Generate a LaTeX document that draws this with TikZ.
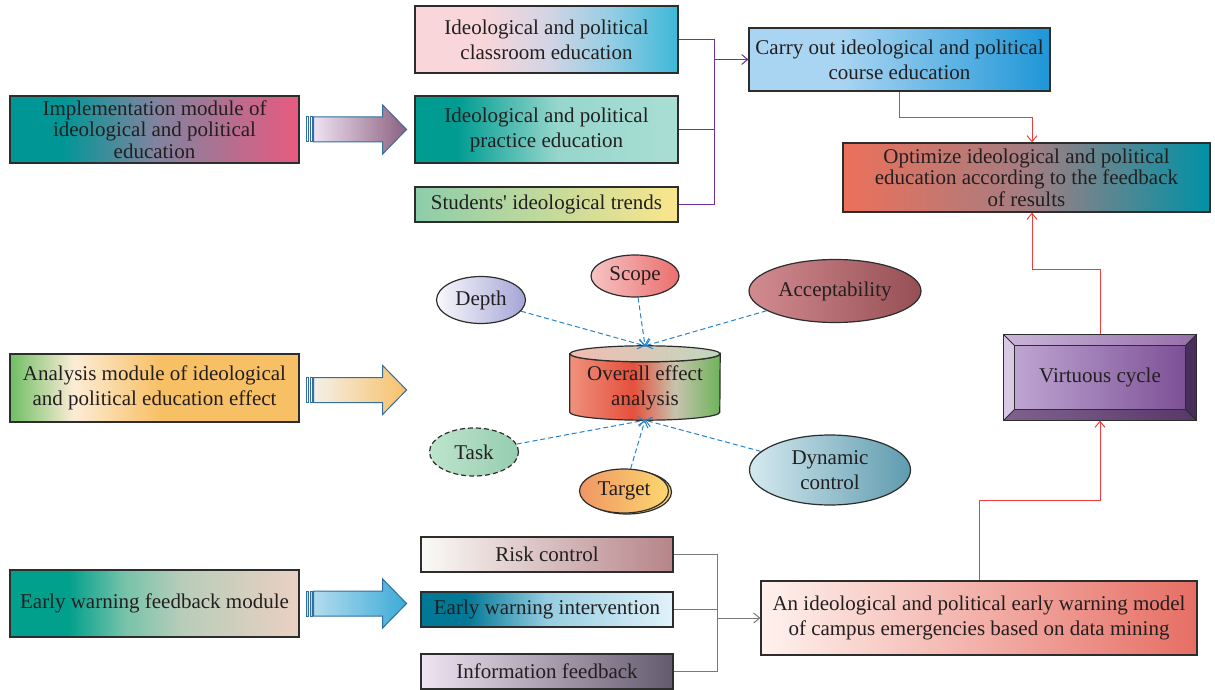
\documentclass[tikz,border=0pt]{standalone}
\usepackage{fontspec}
\setmainfont{Liberation Serif}[Ligatures=TeXOff]
\usetikzlibrary{arrows.meta,shapes.geometric,shadows,backgrounds}

\definecolor{txtgray}{RGB}{35,31,32}
\definecolor{boxline}{RGB}{45,45,45}
\definecolor{arrowline}{RGB}{50,110,160}
\definecolor{linepurple}{RGB}{112,48,160}
\definecolor{linered}{RGB}{238,60,60}
\definecolor{linegray}{RGB}{120,120,120}
\definecolor{lineblue}{RGB}{40,130,200}

\definecolor{implA}{RGB}{0,150,150}
\definecolor{implB}{RGB}{128,132,160}
\definecolor{implC}{RGB}{232,90,128}
\definecolor{pracA}{RGB}{0,156,146}
\definecolor{pracB}{RGB}{150,214,204}
\definecolor{pracC}{RGB}{170,222,212}
\definecolor{clasA}{RGB}{248,214,218}
\definecolor{clasB}{RGB}{212,212,228}
\definecolor{clasC}{RGB}{150,205,228}
\definecolor{clasD}{RGB}{60,184,216}
\definecolor{anaA}{RGB}{110,190,100}
\definecolor{anaB}{RGB}{252,236,215}
\definecolor{anaC}{RGB}{248,192,100}
\definecolor{earlyA}{RGB}{0,160,140}
\definecolor{earlyB}{RGB}{120,195,170}
\definecolor{earlyC}{RGB}{185,205,185}
\definecolor{earlyD}{RGB}{235,208,195}
\definecolor{ewiA}{RGB}{0,120,150}
\definecolor{ewiB}{RGB}{150,205,225}
\definecolor{ewiC}{RGB}{225,242,250}
\definecolor{carryA}{RGB}{170,213,242}
\definecolor{carryB}{RGB}{30,150,215}
\definecolor{optA}{RGB}{236,112,90}
\definecolor{optB}{RGB}{165,125,130}
\definecolor{optC}{RGB}{0,145,165}
\definecolor{cylA}{RGB}{240,145,125}
\definecolor{cylB}{RGB}{228,80,60}
\definecolor{cylC}{RGB}{200,195,175}
\definecolor{cylD}{RGB}{110,180,90}
\definecolor{vleft}{RGB}{216,202,228}
\definecolor{vright}{RGB}{72,46,92}

\pgfdeclarehorizontalshading{implshade}{100bp}{color(0bp)=(implA); color(25bp)=(implA); color(34bp)=(implA); color(50bp)=(implB); color(75bp)=(implC); color(100bp)=(implC)}
\pgfdeclarehorizontalshading{pracshade}{100bp}{color(0bp)=(pracA); color(25bp)=(pracA); color(33bp)=(pracA); color(52bp)=(pracB); color(75bp)=(pracC); color(100bp)=(pracC)}
\pgfdeclarehorizontalshading{classhade}{100bp}{color(0bp)=(clasA); color(25bp)=(clasA); color(38bp)=(clasA); color(50bp)=(clasB); color(62bp)=(clasC); color(75bp)=(clasD); color(100bp)=(clasD)}
\pgfdeclarehorizontalshading{anashade}{100bp}{color(0bp)=(anaA); color(25bp)=(anaA); color(36bp)=(anaB); color(51bp)=(anaC); color(75bp)=(anaC); color(100bp)=(anaC)}
\pgfdeclarehorizontalshading{earlyshade}{100bp}{color(0bp)=(earlyA); color(25bp)=(earlyA); color(35bp)=(earlyA); color(45bp)=(earlyB); color(55bp)=(earlyC); color(75bp)=(earlyD); color(100bp)=(earlyD)}
\pgfdeclarehorizontalshading{ewishade}{100bp}{color(0bp)=(ewiA); color(25bp)=(ewiA); color(34bp)=(ewiA); color(50bp)=(ewiB); color(75bp)=(ewiC); color(100bp)=(ewiC)}
\pgfdeclarehorizontalshading{carryshade}{100bp}{color(0bp)=(carryA); color(25bp)=(carryA); color(40bp)=(carryA); color(75bp)=(carryB); color(100bp)=(carryB)}
\pgfdeclarehorizontalshading{optshade}{100bp}{color(0bp)=(optA); color(25bp)=(optA); color(50bp)=(optB); color(75bp)=(optC); color(100bp)=(optC)}
\pgfdeclarehorizontalshading{cylshade}{100bp}{color(0bp)=(cylA); color(25bp)=(cylA); color(46bp)=(cylB); color(60bp)=(cylC); color(75bp)=(cylD); color(100bp)=(cylD)}

\tikzstyle{arrow} = [->,>={Straight Barb[length=6pt,width=10pt]}]

\begin{document}
\begin{tikzpicture}[x=1pt,y=-1pt]
    \tikzstyle{box}=[draw=boxline,line width=1.2pt,text=txtgray,align=center,inner sep=2pt,font=\fontsize{21}{25}\selectfont]
    \tikzstyle{tightbox}=[box,font=\fontsize{21}{21.5}\selectfont]
    \tikzstyle{oval}=[box,ellipse,inner sep=0pt]
    \tikzstyle{blockarr}=[draw=arrowline,line width=1pt]
    \tikzstyle{pline}=[draw=linepurple,line width=1pt]
    \tikzstyle{rline}=[draw=linered,line width=1pt]
    \tikzstyle{gline}=[draw=linegray,line width=1pt]
    \tikzstyle{dashline}=[draw=lineblue,line width=1pt,dash pattern=on 5pt off 3pt]

    \useasboundingbox (0,0) rectangle (1215,690);

    \node [tightbox,shade,shading=implshade,minimum width=289pt,minimum height=67pt] (impl) at (154.5,129.5)
    {Implementation module of\\ideological and political\\education};
    \node [box,shade,shading=anashade,minimum width=289pt,minimum height=68pt] (analysis) at (154.5,388)
    {Analysis module of ideological\\and political education effect};
    \node [box,shade,shading=earlyshade,minimum width=289pt,minimum height=67pt] (earlymod) at (154.5,603.5)
    {Early warning feedback module};

    \draw [blockarr,fill=white] ([xshift=7pt]impl.east) ++(0,-12.5) rectangle ++(2,25);
    \draw [blockarr,fill=white] ([xshift=10.5pt]impl.east) ++(0,-12.5) rectangle ++(2,25);
    \draw [blockarr,left color={rgb,255:red,238;green,226;blue,242},right color={rgb,255:red,140;green,96;blue,128}]
    ([xshift=14pt]impl.east) ++(0,-12.5) -- ++(69,0) -- ++(0,-12) -- ++(24,24.5) -- ++(-24,24.5) -- ++(0,-12) -- ++(-69,0) -- cycle;
    \draw [blockarr,fill=white] ([xshift=7pt,yshift=-2pt]analysis.east) ++(0,-12.5) rectangle ++(2,25);
    \draw [blockarr,fill=white] ([xshift=10.5pt,yshift=-2pt]analysis.east) ++(0,-12.5) rectangle ++(2,25);
    \draw [blockarr,left color={rgb,255:red,243;green,240;blue,232},right color={rgb,255:red,248;green,192;blue,105}]
    ([xshift=14pt,yshift=-2pt]analysis.east) ++(0,-12.5) -- ++(69,0) -- ++(0,-12) -- ++(24,24.5) -- ++(-24,24.5) -- ++(0,-12) -- ++(-69,0) -- cycle;
    \draw [blockarr,fill={rgb,255:red,180;green,220;blue,238}] ([xshift=7pt]earlymod.east) ++(0,-12.5) rectangle ++(2,25);
    \draw [blockarr,fill={rgb,255:red,180;green,220;blue,238}] ([xshift=10.5pt]earlymod.east) ++(0,-12.5) rectangle ++(2,25);
    \draw [blockarr,left color={rgb,255:red,178;green,220;blue,238},right color={rgb,255:red,60;green,170;blue,215}]
    ([xshift=14pt]earlymod.east) ++(0,-12.5) -- ++(69,0) -- ++(0,-12) -- ++(24,24.5) -- ++(-24,24.5) -- ++(0,-12) -- ++(-69,0) -- cycle;

    \node [box,shade,shading=classhade,minimum width=263pt,minimum height=67pt] (classroom) at (546.5,39.5)
    {Ideological and political\\classroom education};
    \node [box,shade,shading=pracshade,minimum width=263pt,minimum height=67pt] (practice) at (546.5,129.5)
    {Ideological and political\\practice education};
    \node [box,left color={rgb,255:red,140;green,205;blue,170},middle color={rgb,255:red,205;green,225;blue,160},right color={rgb,255:red,250;green,230;blue,140},minimum width=263pt,minimum height=35pt] (trends) at (546.5,204.5)
    {Students' ideological trends};
    \node [box,shade,shading=carryshade,minimum width=301pt,minimum height=63pt] (carry) at (899.5,59.5)
    {Carry out ideological and political\\course education};
    \node [tightbox,shade,shading=optshade,minimum width=367pt,minimum height=69pt] (optimize) at (1026.5,177.5)
    {Optimize ideological and political\\education according to the feedback\\of results};

    \coordinate (pjoin) at (714,59.5);
    \draw [pline] (classroom.east) -| (pjoin);
    \draw [pline] (practice.east) -| (pjoin);
    \draw [pline] (trends.east) -| (pjoin);
    \draw [pline,arrow] (pjoin) -- (carry.west);
    \draw [rline,arrow] (carry.south) -- ++(0,26) -| ([xshift=5.5pt]optimize.north);

    \node [box,draw=none,minimum width=192pt,minimum height=85pt] (virtuous) at (1100,377.5) {Virtuous cycle};
    \begin{scope}[on background layer]
        \fill [left color={rgb,255:red,202;green,182;blue,217},right color={rgb,255:red,150;green,110;blue,170}]
        (virtuous.north west) -- (virtuous.north east) -- ([shift={(-11pt,-11pt)}]virtuous.north east) -- ([shift={(11pt,-11pt)}]virtuous.north west) -- cycle;
        \fill [vleft]
        (virtuous.north west) -- ([shift={(11pt,-11pt)}]virtuous.north west) -- ([shift={(11pt,11pt)}]virtuous.south west) -- (virtuous.south west) -- cycle;
        \fill [vright]
        (virtuous.north east) -- ([shift={(-11pt,-11pt)}]virtuous.north east) -- ([shift={(-11pt,11pt)}]virtuous.south east) -- (virtuous.south east) -- cycle;
        \fill [left color={rgb,255:red,128;green,98;blue,142},right color={rgb,255:red,88;green,55;blue,105}]
        (virtuous.south west) -- ([shift={(11pt,11pt)}]virtuous.south west) -- ([shift={(-11pt,11pt)}]virtuous.south east) -- (virtuous.south east) -- cycle;
        \shade [left color={rgb,255:red,190;green,165;blue,210},right color={rgb,255:red,125;green,80;blue,150}]
        ([shift={(11pt,-11pt)}]virtuous.north west) rectangle ([shift={(-11pt,11pt)}]virtuous.south east);
        \draw [boxline,line width=1.2pt] (virtuous.north west) rectangle (virtuous.south east);
        \draw [boxline,line width=1pt] ([shift={(11pt,-11pt)}]virtuous.north west) rectangle ([shift={(-11pt,11pt)}]virtuous.south east);
        \draw [boxline,line width=0.8pt] (virtuous.north west) -- ([shift={(11pt,-11pt)}]virtuous.north west)
        (virtuous.north east) -- ([shift={(-11pt,-11pt)}]virtuous.north east)
        (virtuous.south west) -- ([shift={(11pt,11pt)}]virtuous.south west)
        (virtuous.south east) -- ([shift={(-11pt,11pt)}]virtuous.south east);
    \end{scope}
    \draw [rline,arrow] (virtuous.north) -- ++(0,-65) -| ([xshift=5.5pt]optimize.south);

    \node [box,left color={rgb,255:red,250;green,250;blue,247},middle color={rgb,255:red,218;green,196;blue,194},right color={rgb,255:red,182;green,132;blue,137},minimum width=252pt,minimum height=35pt] (risk) at (547,554.5)
    {Risk control};
    \node [box,shade,shading=ewishade,minimum width=252pt,minimum height=35pt] (ewi) at (547,609.5)
    {Early warning intervention};
    \node [box,left color={rgb,255:red,238;green,228;blue,242},middle color={rgb,255:red,180;green,165;blue,190},right color={rgb,255:red,100;green,90;blue,110},minimum width=252pt,minimum height=35pt] (infofb) at (547,671.5)
    {Information feedback};
    \node [box,left color={rgb,255:red,255;green,242;blue,238},middle color={rgb,255:red,245;green,185;blue,165},right color={rgb,255:red,230;green,110;blue,100},minimum width=436pt,minimum height=74pt] (model) at (979,618)
    {An ideological and political early warning model\\of campus emergencies based on data mining};

    \coordinate (gjoin) at (717,618);
    \draw [gline] (risk.east) -| (gjoin);
    \draw [gline] (ewi.east) -| (gjoin);
    \draw [gline] (infofb.east) -| (gjoin);
    \draw [gline,arrow] (gjoin) -- (model.west);
    \draw [rline,arrow] (model.north) -- ++(0,-80) -| (virtuous.south);

    \node [draw=none,inner sep=0pt,minimum width=150pt,minimum height=74pt,
        label={[box,draw=none,yshift=-5pt]center:{Overall effect\\analysis}}] (cyl) at (645,383) {};
    \begin{scope}[on background layer]
        \shade [shading=cylshade,draw=boxline,line width=1.2pt]
        ([yshift=-8pt]cyl.north west) -- ([yshift=8pt]cyl.south west)
        arc [start angle=180,end angle=360,x radius=75pt,y radius=8pt]
        -- ([yshift=-8pt]cyl.north east)
        arc [start angle=0,end angle=-180,x radius=75pt,y radius=8pt] -- cycle;
        \draw [boxline,line width=1.2pt,left color={rgb,255:red,242;green,188;blue,178},right color={rgb,255:red,192;green,215;blue,190}]
        ([yshift=-8pt]cyl.north) ellipse [x radius=75pt,y radius=8pt];
    \end{scope}

    \node [oval,left color={rgb,255:red,248;green,248;blue,252},right color={rgb,255:red,165;green,165;blue,215},minimum width=89pt,minimum height=47pt] (depth) at (481,300) {Depth};
    \node [oval,left color={rgb,255:red,246;green,196;blue,196},right color={rgb,255:red,235;green,110;blue,110},minimum width=88pt,minimum height=42pt] (scope) at (635,276) {Scope};
    \node [oval,left color={rgb,255:red,210;green,140;blue,145},right color={rgb,255:red,150;green,80;blue,85},minimum width=172pt,minimum height=63pt] (accept) at (835,291) {Acceptability};
    \node [oval,dash pattern=on 5pt off 3pt,left color={rgb,255:red,190;green,228;blue,205},right color={rgb,255:red,150;green,205;blue,175},minimum width=89pt,minimum height=48pt] (task) at (474,452) {Task};
    \node [oval,general shadow={shadow xshift=3pt,shadow yshift=-1pt,draw=boxline,line width=1.2pt,fill={rgb,255:red,250;green,205;blue,110}},left color={rgb,255:red,240;green,150;blue,100},right color={rgb,255:red,252;green,215;blue,110},minimum width=89pt,minimum height=44pt] (target) at (624,491) {Target};
    \node [oval,left color={rgb,255:red,212;green,233;blue,239},right color={rgb,255:red,95;green,155;blue,175},minimum width=161pt,minimum height=70pt] (dynamic) at (830,470) {Dynamic\\control};

    \draw [dashline,arrow] (depth) -- (cyl.north);
    \draw [dashline,arrow] (scope) -- (cyl.north);
    \draw [dashline,arrow] (accept) -- (cyl.north);
    \draw [dashline,arrow] (task) -- (cyl.south);
    \draw [dashline,arrow] (target) -- (cyl.south);
    \draw [dashline,arrow] (dynamic) -- (cyl.south);
\end{tikzpicture}
\end{document}
